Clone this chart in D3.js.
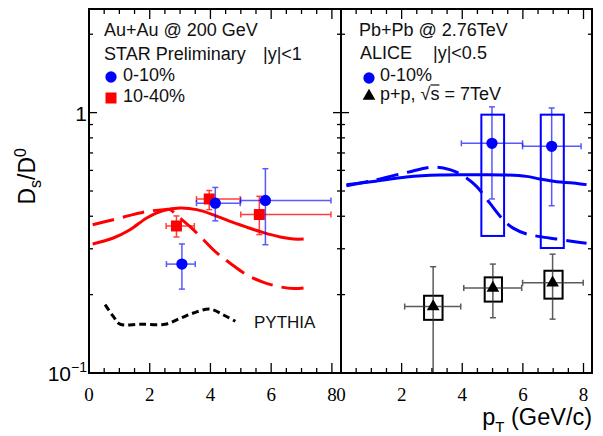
<!DOCTYPE html>
<html>
<head>
<meta charset="utf-8">
<script src="https://cdn.jsdelivr.net/npm/d3@7"></script>
<style>
  body { margin: 0; background: #fff; }
  svg { display: block; }
  text { font-family: "Liberation Sans", Arial, sans-serif; }
</style>
</head>
<body>
<svg id="chart" width="603" height="436"></svg>
<script>
// ---- data ----
// points: [pt, ptLow, ptHigh, value, errLow, errHigh]
var star010 = [
    [3.06, 2.55, 3.50, 0.262, 0.210, 0.313],
    [4.16, 3.54, 4.98, 0.449, 0.384, 0.516],
    [5.81, 5.00, 7.97, 0.460, 0.311, 0.609]
];
var star1040 = [
    [2.88, 2.54, 3.47, 0.367, 0.333, 0.401],
    [3.96, 3.54, 4.98, 0.466, 0.424, 0.502],
    [5.61, 5.00, 7.97, 0.406, 0.340, 0.477]
];
var alice010 = [
    [4.98, 3.97, 5.99, 0.762, 0.466, 1.052],
    [6.95, 5.99, 7.92, 0.742, 0.439, 1.042]
];
// systematic boxes: [ptLow, ptHigh, low, high]
var alice010Sys = [
    [4.63, 5.38, 0.336, 0.982],
    [6.59, 7.35, 0.302, 0.982]
];
var alicePP = [
    [3.04, 2.10, 3.95, 0.180, 0.090, 0.256],
    [5.01, 4.05, 5.96, 0.212, 0.163, 0.262],
    [6.98, 5.99, 7.99, 0.222, 0.161, 0.286]
];
var alicePPSys = [
    [2.74, 3.35, 0.160, 0.198],
    [4.74, 5.31, 0.188, 0.233],
    [6.71, 7.31, 0.193, 0.247]
];

// model curves: [pt, Ds/D0]
var starSolid = [[0.12,0.313],[0.80,0.330],[1.35,0.355],[1.90,0.394],[2.45,0.421],[3.0,0.430],[3.55,0.424],[4.10,0.405],[4.65,0.382],[5.20,0.363],[5.75,0.346],[6.30,0.333],[6.74,0.327],[7.07,0.327]];
var starDashed = [[0.12,0.371],[0.80,0.388],[1.35,0.403],[1.90,0.417],[2.45,0.424],[2.67,0.424],[2.89,0.403],[3.33,0.365],[3.77,0.325],[4.21,0.289],[4.65,0.264],[5.20,0.238],[5.75,0.223],[6.31,0.214],[6.74,0.211],[7.07,0.212]];
var pythia = [[0.53,0.183],[0.80,0.165],[1.02,0.154],[1.68,0.154],[2.51,0.154],[3.0,0.162],[3.44,0.170],[3.99,0.176],[4.43,0.167],[4.82,0.158]];
var aliceSolid = [[0.18,0.529],[1.06,0.544],[2.16,0.566],[3.26,0.576],[4.36,0.577],[5.46,0.576],[6.12,0.569],[6.56,0.556],[7.11,0.543],[7.66,0.537],[8.10,0.529]];
var aliceDashed = [[0.18,0.524],[1.06,0.549],[2.16,0.589],[3.04,0.618],[3.59,0.604],[4.03,0.572],[4.47,0.521],[4.91,0.449],[5.35,0.388],[5.68,0.360],[6.12,0.342],[6.56,0.334],[7.11,0.327],[7.66,0.320],[8.10,0.315]];

var xTicks = [0, 2, 4, 6, 8];
var yMinor = [0.2, 0.3, 0.4, 0.5, 0.6, 0.7, 0.8, 0.9, 2];

(function() {
    var blue = "#0000ff", red = "#ff0000";

    // ---- layout ----
    var yTop = 9, yBottom = 373;
    var svg = d3.select("#chart");

    var y = d3.scaleLog().domain([0.1, 2.5]).range([yBottom, yTop]);
    var xL = d3.scaleLinear().domain([0, 8.3]).range([89, 341]);
    var xR = d3.scaleLinear().domain([0, 8.28]).range([341, 592]);

    function panel(x, id) {
        var g = svg.append("g");
        var r = x.range();
        g.append("clipPath").attr("id", id)
            .append("rect").attr("x", r[0]).attr("y", yTop).attr("width", r[1] - r[0]).attr("height", yBottom - yTop);
        var plot = g.append("g").attr("clip-path", "url(#" + id + ")");

        // ticks, x (bottom and top)
        d3.range(0, 8.3, 0.5).forEach(function(v) {
            var len = (v % 2 === 0) ? 10 : 5;
            g.append("line").attr("x1", x(v)).attr("x2", x(v)).attr("y1", yBottom).attr("y2", yBottom - len)
                .attr("stroke", "#000").attr("stroke-width", 1.3);
            g.append("line").attr("x1", x(v)).attr("x2", x(v)).attr("y1", yTop).attr("y2", yTop + len)
                .attr("stroke", "#000").attr("stroke-width", 1.3);
        });
        // ticks, y (both sides)
        [0.1, 1].concat(yMinor).forEach(function(v) {
            var len = (v === 0.1 || v === 1) ? 8 : 4;
            g.append("line").attr("x1", r[0]).attr("x2", r[0] + len).attr("y1", y(v)).attr("y2", y(v))
                .attr("stroke", "#000").attr("stroke-width", 1.3);
            g.append("line").attr("x1", r[1]).attr("x2", r[1] - len).attr("y1", y(v)).attr("y2", y(v))
                .attr("stroke", "#000").attr("stroke-width", 1.3);
        });
        // x tick labels
        g.selectAll("text.xt").data(xTicks).enter().append("text")
            .attr("x", (d) => x(d)).attr("y", 401)
            .attr("text-anchor", "middle")
            .style("font-family", "'Liberation Serif', 'Times New Roman', serif")
            .style("font-size", "19px")
            .text((d) => d);
        // frame
        g.append("rect").attr("x", r[0]).attr("y", yTop).attr("width", r[1] - r[0]).attr("height", yBottom - yTop)
            .attr("fill", "none").attr("stroke", "#000").attr("stroke-width", 2);
        return plot;
    }

    var left = panel(xL, "clipL");
    var right = panel(xR, "clipR");

    function curve(g, x, data, color, dash, width) {
        g.append("path").datum(data)
            .attr("fill", "none").attr("stroke", color).attr("stroke-width", width)
            .attr("stroke-dasharray", dash)
            .attr("d", d3.line().curve(d3.curveCatmullRom).x((d) => x(d[0])).y((d) => y(d[1])));
    }

    function errors(g, x, data, color, opacity) {
        var cap = 3;
        data.forEach(function(d) {
            var e = g.append("g").attr("stroke", color).attr("stroke-width", 1.5).attr("opacity", opacity);
            e.append("line").attr("x1", x(d[1])).attr("x2", x(d[2])).attr("y1", y(d[3])).attr("y2", y(d[3]));
            e.append("line").attr("x1", x(d[0])).attr("x2", x(d[0])).attr("y1", y(d[4])).attr("y2", y(d[5]));
            e.append("line").attr("x1", x(d[1])).attr("x2", x(d[1])).attr("y1", y(d[3]) - cap).attr("y2", y(d[3]) + cap);
            e.append("line").attr("x1", x(d[2])).attr("x2", x(d[2])).attr("y1", y(d[3]) - cap).attr("y2", y(d[3]) + cap);
            e.append("line").attr("x1", x(d[0]) - cap).attr("x2", x(d[0]) + cap).attr("y1", y(d[4])).attr("y2", y(d[4]));
            e.append("line").attr("x1", x(d[0]) - cap).attr("x2", x(d[0]) + cap).attr("y1", y(d[5])).attr("y2", y(d[5]));
        });
    }

    function boxes(g, x, data, color) {
        g.selectAll(null).data(data).enter().append("rect")
            .attr("x", (d) => x(d[0])).attr("width", (d) => x(d[1]) - x(d[0]))
            .attr("y", (d) => y(d[3])).attr("height", (d) => y(d[2]) - y(d[3]))
            .attr("fill", "none").attr("stroke", color).attr("stroke-width", 2);
    }

    var sym = {
        circle: d3.symbol().type(d3.symbolCircle).size(100),
        square: d3.symbol().type(d3.symbolSquare).size(121),
        triangle: d3.symbol().type(d3.symbolTriangle).size(70)
    };

    function markers(g, x, data, shape, color) {
        g.selectAll(null).data(data).enter().append("path")
            .attr("transform", (d) => "translate(" + x(d[0]) + "," + y(d[3]) + ")")
            .attr("d", sym[shape]).attr("fill", color);
    }

    // ---- left panel: STAR ----
    curve(left, xL, starSolid, red, null, 3);
    curve(left, xL, starDashed, red, "22,9", 3);
    curve(left, xL, pythia, "#000", "7,4", 3);
    errors(left, xL, star1040, red, 0.75);
    errors(left, xL, star010, blue, 0.65);
    markers(left, xL, star1040, "square", red);
    markers(left, xL, star010, "circle", blue);

    // ---- right panel: ALICE ----
    curve(right, xR, aliceSolid, blue, null, 3);
    curve(right, xR, aliceDashed, blue, "22,9", 3);
    boxes(right, xR, alice010Sys, blue);
    boxes(right, xR, alicePPSys, "#000");
    errors(right, xR, alice010, blue, 0.65);
    errors(right, xR, alicePP, "#333", 0.8);
    markers(right, xR, alice010, "circle", blue);
    markers(right, xR, alicePP, "triangle", "#000");

    // ---- text ----
    function label(x, yy, t, size) {
        return svg.append("text").attr("x", x).attr("y", yy).style("font-size", (size || 18) + "px").attr("fill", "#111").text(t);
    }
    label(104, 36, "Au+Au @ 200 GeV");
    label(104, 60, "STAR Preliminary");
    label(263, 60, "|y|<1");
    label(123, 81, "0-10%");
    label(123, 102, "10-40%");
    label(254, 328, "PYTHIA", 17);
    svg.append("path").attr("transform", "translate(111,77)").attr("d", sym.circle).attr("fill", blue);
    svg.append("path").attr("transform", "translate(111,98)").attr("d", sym.square).attr("fill", red);

    label(359, 36, "Pb+Pb @ 2.76TeV");
    label(360, 59, "ALICE");
    label(433, 59, "|y|<0.5");
    label(380, 81, "0-10%");
    var pp = label(380, 100, "p+p, \u221As = 7TeV");
    svg.append("path").attr("transform", "translate(369,78)").attr("d", sym.circle).attr("fill", blue);
    svg.append("path").attr("transform", "translate(369,96)").attr("d", sym.triangle).attr("fill", "#000");
    // overline of the square root
    var n = pp.node();
    var s0 = n.getStartPositionOfChar(6).x, s1 = n.getEndPositionOfChar(6).x;
    svg.append("line").attr("x1", s0).attr("x2", s1).attr("y1", 85).attr("y2", 85).attr("stroke", "#111").attr("stroke-width", 1.2);

    // y tick labels
    svg.append("text").attr("x", 87).attr("y", 121).attr("text-anchor", "end").style("font-size", "21px").text("1");
    var t01 = svg.append("text").attr("x", 87).attr("y", 381).attr("text-anchor", "end").style("font-size", "21px");
    t01.append("tspan").text("10");
    t01.append("tspan").attr("dy", -9).style("font-size", "14px").text("\u22121");

    // axis titles
    var yt = svg.append("text").attr("transform", "translate(35,148) rotate(-90)")
        .attr("text-anchor", "end").style("font-size", "23px");
    yt.append("tspan").text("D");
    yt.append("tspan").attr("dy", 6).style("font-size", "16px").text("s");
    yt.append("tspan").attr("dy", -6).text("/D");
    yt.append("tspan").attr("dy", -9).style("font-size", "16px").text("0");

    var xt = svg.append("text").attr("x", 592).attr("y", 425).attr("text-anchor", "end").style("font-size", "23.5px");
    xt.append("tspan").text("p");
    xt.append("tspan").attr("dy", 7).style("font-size", "15px").text("T");
    xt.append("tspan").attr("dy", -7).text(" (GeV/c)");
})();
</script>
</body>
</html>
